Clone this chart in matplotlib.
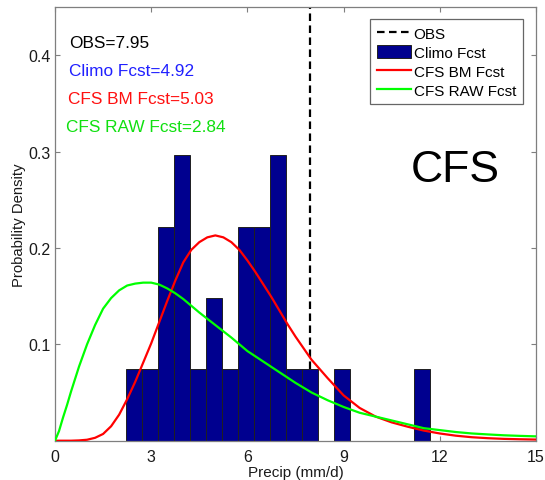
import matplotlib
matplotlib.use("Agg")
import matplotlib.pyplot as plt
import numpy as np

plt.rcParams['font.family'] = ['Liberation Sans', 'DejaVu Sans']

# ---- data ----
bin_edges = [2.2, 2.7, 3.2, 3.7, 4.2, 4.7, 5.2, 5.7, 6.2, 6.7, 7.2, 7.7,
             8.2, 8.7, 9.2, 9.7, 10.2, 10.7, 11.2, 11.7]
bin_counts = [1, 1, 3, 4, 1, 2, 1, 3, 3, 4, 1, 1, 0, 1, 0, 0, 0, 0, 1]

obs_value = 7.95

raw_x = [0, 0.125, 0.25, 0.375, 0.5, 0.75, 1.0, 1.25, 1.5, 1.75, 2.0, 2.25,
         2.5, 2.75, 3.0, 3.25, 3.5, 3.75, 4.0, 4.25, 4.5, 5.0, 5.5, 6.0, 6.5,
         7.0, 7.5, 8.0, 8.5, 9.0, 9.5, 10.0, 10.5, 11.0, 11.5, 12.0, 12.5,
         13.0, 13.5, 14.0, 14.5, 15.0]
raw_pdf = [0, 0.010, 0.024, 0.037, 0.051, 0.077, 0.100, 0.120, 0.137, 0.148,
           0.156, 0.161, 0.163, 0.164, 0.164, 0.162, 0.158, 0.153, 0.147,
           0.140, 0.133, 0.120, 0.107, 0.093, 0.082, 0.071, 0.060, 0.050,
           0.042, 0.035, 0.029, 0.025, 0.021, 0.017, 0.013, 0.011, 0.009,
           0.0075, 0.0065, 0.0056, 0.0050, 0.0045]

bm_x = [0, 0.5, 0.75, 1.0, 1.25, 1.5, 1.75, 2.0, 2.25, 2.5, 2.75, 3.0, 3.25,
        3.5, 3.75, 4.0, 4.25, 4.5, 4.75, 5.0, 5.25, 5.5, 5.75, 6.0, 6.25,
        6.5, 6.75, 7.0, 7.25, 7.5, 7.75, 8.0, 8.5, 9.0, 9.5, 10.0, 10.5,
        11.0, 11.5, 12.0, 12.5, 13.0, 13.5, 14.0, 14.5, 15.0]
bm_pdf = [0, 0.0, 0.0003, 0.001, 0.003, 0.007, 0.015, 0.027, 0.043, 0.061,
          0.081, 0.101, 0.123, 0.145, 0.166, 0.185, 0.198, 0.206, 0.211,
          0.213, 0.211, 0.206, 0.198, 0.187, 0.175, 0.162, 0.149, 0.135,
          0.121, 0.108, 0.096, 0.084, 0.065, 0.047, 0.034, 0.025, 0.019,
          0.0145, 0.0105, 0.0075, 0.0052, 0.0036, 0.0026, 0.0019, 0.0015,
          0.0012]

labels = ["OBS", "Climo Fcst", "CFS BM Fcst", "CFS RAW Fcst"]
notes = ["OBS=7.95", "Climo Fcst=4.92", "CFS BM Fcst=5.03", "CFS RAW Fcst=2.84"]
note_colors = ["black", "#2020ff", "#ff1010", "#10e010"]

# ---- figure ----
W, H = 545, 481
fig = plt.figure(figsize=(W / 100, H / 100), dpi=100)
ax_l, ax_r, ax_t, ax_b = 55, 536, 8, 441.7
ax = fig.add_axes([ax_l / W, (H - ax_b) / H, (ax_r - ax_l) / W, (ax_b - ax_t) / H])

centers = [(a + b) / 2 for a, b in zip(bin_edges[:-1], bin_edges[1:])]

ax.axvline(obs_value, color='black', lw=1.6, linestyle=(0, (3.4, 2.0)),
           zorder=1, label=labels[0])
ax.hist(centers, bins=bin_edges, weights=bin_counts, density=True,
        color='#00008f', edgecolor='#202020', linewidth=0.7, zorder=2,
        label=labels[1])
ax.plot(bm_x, bm_pdf, color='#ff0000', lw=1.6, zorder=3, label=labels[2])
ax.plot(raw_x, raw_pdf, color='#00ff00', lw=1.6, zorder=3, label=labels[3])

ax.set_xlim(0, 15)
ax.set_ylim(0, 0.45)
ax.set_xticks([0, 3, 6, 9, 12, 15])
ax.set_yticks([0.1, 0.2, 0.3, 0.4])
ax.set_yticklabels(['0.1', '0.2', '0.3', '0.4'])

for s in ax.spines.values():
    s.set_color('#7f7f7f')
    s.set_linewidth(0.9)
ax.tick_params(direction='in', top=True, right=True, length=3.5,
               width=0.8, color='#7f7f7f', labelsize=11.5, labelcolor='#1a1a1a')
ax.tick_params(axis='x', pad=6)
ax.tick_params(axis='y', pad=3)

ax.set_xlabel("Precip (mm/d)", fontsize=11, color='#1a1a1a', labelpad=1)
ax.set_ylabel("Probability Density", fontsize=10.7, color='#1a1a1a', labelpad=2)

# notes
note_y = [44, 72, 100, 127]
note_x = [69, 69, 68, 66.5]
for t, c, xp, yp in zip(notes, note_colors, note_x, note_y):
    fig.text(xp / W, 1 - yp / H, t, color=c, fontsize=12.4,
             ha='left', va='center')

fig.text(455 / W, 1 - 171 / H, "CFS", fontsize=32, color='black',
         ha='center', va='center')

leg = ax.legend(loc='upper right',
                bbox_to_anchor=((523 - ax_l) / (ax_r - ax_l), (ax_b - 20) / (ax_b - ax_t)),
                borderaxespad=0, fontsize=11, frameon=True, fancybox=False,
                handlelength=2.2, handletextpad=0.2, labelspacing=0.25,
                borderpad=0.45, handleheight=1.0)
leg.get_frame().set_edgecolor('#404040')
leg.get_frame().set_linewidth(0.9)

fig.savefig("out.png", dpi=100)
